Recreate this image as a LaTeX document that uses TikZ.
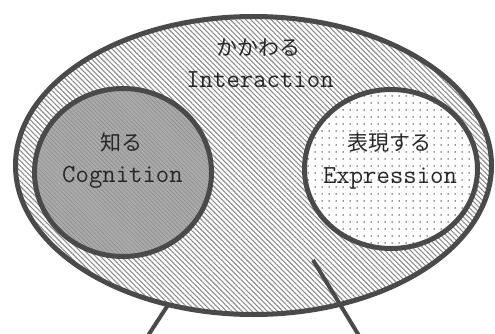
\documentclass[tikz,border=0pt]{standalone}
\usepackage{fontspec}
\newfontfamily\jpfont{Noto Sans CJK JP}
\usetikzlibrary{patterns.meta,shapes.geometric}
\definecolor{edgegray}{HTML}{4A4A4A}
\definecolor{hatchgray}{HTML}{8E8E8E}
\definecolor{cogfill}{HTML}{AAAAAA}
\definecolor{coghatch}{HTML}{8A8A8A}
\definecolor{txtgray}{HTML}{262626}
\tikzset{
  ring/.style={ellipse, draw=edgegray, line width=5pt, inner sep=0pt},
  jptext/.style={inner sep=0pt, text=txtgray, font=\jpfont\fontsize{21}{24}\selectfont},
  entext/.style={inner sep=0pt, anchor=base, text=txtgray, font=\ttfamily\fontsize{26}{30}\selectfont},
  pointer/.style={draw=edgegray, line width=4pt},
}
\begin{document}
\begin{tikzpicture}[x=1pt,y=-1pt]
\useasboundingbox (0,0) rectangle (495,334);
\begin{scope}
\clip (0,0) rectangle (495,334);
% outer ellipse
\fill[white] (253.5,165.5) ellipse [x radius=238pt, y radius=149pt];
\fill[pattern={Lines[angle=-45,distance=3.6pt,line width=1.1pt]}, pattern color=hatchgray]
  (253.5,165.5) ellipse [x radius=238pt, y radius=149pt];
\node[ring, minimum width=476pt, minimum height=298pt] (outer) at (253.5,165.5) {};
% pointer lines
\coordinate (la) at (168,305);
\coordinate (lb) at (138.6,350);
\coordinate (ra) at (313,260);
\coordinate (rb) at (367.7,350);
\draw[pointer] (la) -- (lb);
\draw[pointer] (ra) -- (rb);
% left ellipse
\fill[cogfill] (123,172.5) ellipse [x radius=88.5pt, y radius=84pt];
\fill[pattern={Lines[angle=-45,distance=3pt,line width=0.5pt]}, pattern color=coghatch]
  (123,172.5) ellipse [x radius=88.5pt, y radius=84pt];
\node[ring, minimum width=177pt, minimum height=168pt] (cog) at (123,172.5) {};
% right ellipse
\fill[white] (391,169) ellipse [x radius=86.5pt, y radius=79.5pt];
\fill[pattern={Dots[distance=7pt,radius=0.75pt]}, pattern color=black!80]
  (391,169) ellipse [x radius=86.5pt, y radius=79.5pt];
\node[ring, minimum width=173pt, minimum height=159pt] (expr) at (391,169) {};
\end{scope}
% texts
\node[jptext] (t1) at (258,48) {かかわる};
\node[entext] (t2) at (260,88) {Interaction};
\node[jptext] (t3) at (121.5,142) {知る};
\node[entext] (t4) at (122.5,182) {Cognition};
\node[jptext] (t5) at (389,143) {表現する};
\node[entext] (t6) at (390,183) {Expression};
\end{tikzpicture}
\end{document}
